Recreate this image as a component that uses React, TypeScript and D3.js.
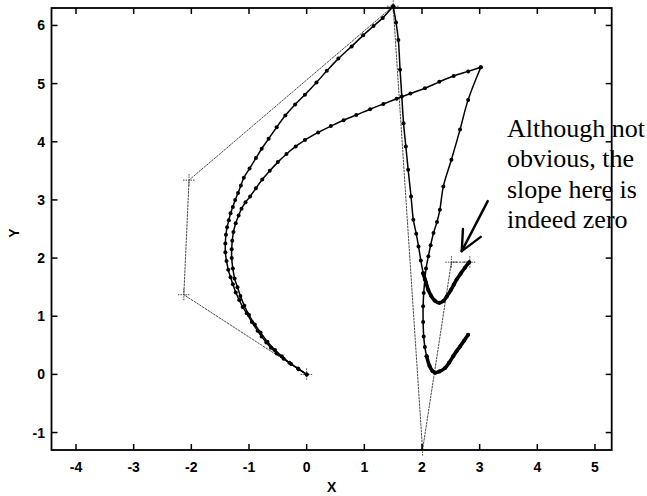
import React from 'react';
import * as d3 from 'd3';

const W = 647;
const H = 496;

const xTicks = [-4, -3, -2, -1, 0, 1, 2, 3, 4, 5];
const yTicks = [-1, 0, 1, 2, 3, 4, 5, 6];
const xDomain: [number, number] = [-4.425, 5.29];
const yDomain: [number, number] = [-1.3, 6.3];

// control polygon (drawn with + markers)
const controlPoints: [number, number][] = [
  [0, 0], [-2.13, 1.37], [-2.04, 3.34], [1.5, 6.33], [2.01, -1.3], [2.51, 1.93], [2.83, 1.93],
];

// outer curve
const outerRise: [number, number][] = [
  [0, 0], [-0.14, 0.09], [-0.27, 0.18], [-0.4, 0.27], [-0.52, 0.36], [-0.62, 0.46], [-0.7, 0.55],
  [-0.78, 0.65], [-0.85, 0.75], [-0.95, 0.9], [-1.04, 1.05], [-1.11, 1.16], [-1.17, 1.28],
  [-1.23, 1.41], [-1.28, 1.55], [-1.32, 1.67], [-1.36, 1.8], [-1.39, 1.95], [-1.41, 2.1],
  [-1.41, 2.25], [-1.4, 2.4], [-1.38, 2.53], [-1.35, 2.65], [-1.32, 2.77], [-1.28, 2.88],
  [-1.24, 3.0], [-1.19, 3.12], [-1.14, 3.25], [-1.09, 3.38], [-0.99, 3.54], [-0.88, 3.72],
  [-0.78, 3.88], [-0.66, 4.05], [-0.52, 4.25], [-0.37, 4.45], [-0.2, 4.64], [-0.03, 4.81],
  [0.17, 5.02], [0.35, 5.22], [0.55, 5.43], [0.78, 5.64], [0.98, 5.83], [1.16, 5.99],
  [1.32, 6.13], [1.5, 6.33],
];
const outerFall: [number, number][] = [
  [1.5, 6.33], [1.55, 6.05], [1.59, 5.75], [1.62, 5.24], [1.65, 4.78], [1.68, 4.32],
  [1.72, 3.92], [1.76, 3.52], [1.81, 3.06], [1.85, 2.66], [1.9, 2.42], [1.94, 2.2],
  [1.98, 1.96], [2.02, 1.74],
];
const outerTail: [number, number][] = [
  [2.02, 1.74], [2.07, 1.58], [2.11, 1.45], [2.16, 1.35], [2.22, 1.27], [2.3, 1.23],
  [2.37, 1.26], [2.43, 1.34], [2.5, 1.45], [2.55, 1.54], [2.6, 1.63], [2.67, 1.73],
  [2.74, 1.83], [2.82, 1.93],
];

// inner curve
const innerRise: [number, number][] = [
  [0, 0], [-0.15, 0.1], [-0.3, 0.2], [-0.43, 0.31], [-0.55, 0.42], [-0.68, 0.56], [-0.8, 0.72],
  [-0.9, 0.86], [-1.0, 1.02], [-1.08, 1.18], [-1.15, 1.35], [-1.2, 1.5], [-1.25, 1.65],
  [-1.28, 1.82], [-1.3, 2.0], [-1.3, 2.15], [-1.29, 2.3], [-1.27, 2.45], [-1.23, 2.6],
  [-1.18, 2.73], [-1.13, 2.85], [-1.06, 2.96], [-0.98, 3.06], [-0.88, 3.2], [-0.77, 3.35],
  [-0.64, 3.5], [-0.5, 3.65], [-0.35, 3.79], [-0.19, 3.92], [-0.03, 4.03], [0.2, 4.16],
  [0.42, 4.27], [0.64, 4.37], [0.86, 4.46], [1.1, 4.56], [1.33, 4.65], [1.56, 4.74],
  [1.8, 4.83], [2.05, 4.92], [2.3, 5.03], [2.55, 5.13], [2.8, 5.21], [3.02, 5.28],
];
const innerFall: [number, number][] = [
  [3.02, 5.28], [2.8, 4.72], [2.66, 4.21], [2.51, 3.69], [2.37, 3.23], [2.31, 2.83],
  [2.26, 2.62], [2.2, 2.43], [2.15, 2.22], [2.11, 2.03], [2.07, 1.82], [2.05, 1.63],
  [2.03, 1.4], [2.02, 1.17], [2.02, 0.9], [2.03, 0.65], [2.05, 0.47], [2.08, 0.31],
];
const innerTail: [number, number][] = [
  [2.08, 0.31], [2.13, 0.15], [2.18, 0.06], [2.23, 0.03], [2.3, 0.05], [2.4, 0.11],
  [2.47, 0.2], [2.54, 0.31], [2.6, 0.4], [2.66, 0.48], [2.73, 0.58], [2.8, 0.68],
];

// annotation
const noteLines = ['Although not', 'obvious, the', 'slope here is', 'indeed zero'];
const arrowTail: [number, number] = [3.14, 2.98];
const arrowTip: [number, number] = [2.69, 2.12];
const arrowArms: [number, number][] = [[2.71, 2.5], [3.02, 2.365]];

export default function App() {
  const left = 51.5, right = 611.7, top = 8, bottom = 450;
  const x = d3.scaleLinear().domain(xDomain).range([left, right]);
  const y = d3.scaleLinear().domain(yDomain).range([bottom, top]);
  const smooth = d3
    .line<[number, number]>()
    .x((d) => x(d[0]))
    .y((d) => y(d[1]))
    .curve(d3.curveCatmullRom.alpha(0.5));
  const straight = d3
    .line<[number, number]>()
    .x((d) => x(d[0]))
    .y((d) => y(d[1]));

  const tick = 6;
  const thinPieces = [outerRise, outerFall, innerRise, innerFall];
  const tails = [outerTail, innerTail];
  const allDots = [...outerRise, ...outerFall, ...innerRise, ...innerFall, ...outerTail, ...innerTail];

  return (
    <svg
      width={W}
      height={H}
      style={{ position: 'absolute', left: 0, top: 0, background: '#fff' }}
      fontFamily="'Liberation Sans', Arial, sans-serif"
    >
      <rect x={0} y={0} width={W} height={H} fill="#fff" />
      {/* control polygon */}
      <path d={straight(controlPoints) || ''} fill="none" stroke="#333" strokeWidth={0.9} strokeDasharray="2.5 0.8" />
      {controlPoints.map((p, i) => (
        <g key={'cp' + i} stroke="#333" strokeWidth={0.9} strokeDasharray="1.5 1">
          <line x1={x(p[0]) - 6} x2={x(p[0]) + 6} y1={y(p[1])} y2={y(p[1])} />
          <line x1={x(p[0])} x2={x(p[0])} y1={y(p[1]) - 6} y2={y(p[1]) + 6} />
        </g>
      ))}
      {/* curves */}
      {thinPieces.map((pts, i) => (
        <path key={'c' + i} d={smooth(pts) || ''} fill="none" stroke="#000" strokeWidth={1.5} />
      ))}
      {tails.map((pts, i) => (
        <path key={'t' + i} d={smooth(pts) || ''} fill="none" stroke="#000" strokeWidth={3.6} strokeLinecap="round" />
      ))}
      {allDots.map((p, i) => (
        <circle key={'d' + i} cx={x(p[0])} cy={y(p[1])} r={2} fill="#000" />
      ))}
      {/* frame */}
      <rect x={left} y={top} width={right - left} height={bottom - top} fill="none" stroke="#000" strokeWidth={1.8} />
      {xTicks.map((t) => (
        <g key={'xt' + t} stroke="#000" strokeWidth={1.5}>
          <line x1={x(t)} x2={x(t)} y1={bottom} y2={bottom - tick} />
          <line x1={x(t)} x2={x(t)} y1={top} y2={top + tick} />
        </g>
      ))}
      {yTicks.map((t) => (
        <g key={'yt' + t} stroke="#000" strokeWidth={1.5}>
          <line x1={left} x2={left + tick} y1={y(t)} y2={y(t)} />
          <line x1={right} x2={right - tick} y1={y(t)} y2={y(t)} />
        </g>
      ))}
      {xTicks.map((t) => (
        <text key={'xl' + t} x={x(t)} y={472} textAnchor="middle" fontSize={14} fontWeight="bold">
          {String(t)}
        </text>
      ))}
      {yTicks.map((t) => (
        <text key={'yl' + t} x={45} y={y(t)} dy="0.36em" textAnchor="end" fontSize={14} fontWeight="bold">
          {String(t)}
        </text>
      ))}
      <text x={(left + right) / 2} y={492} textAnchor="middle" fontSize={14} fontWeight="bold">
        X
      </text>
      <text
        transform={`translate(19, ${(top + bottom) / 2 + 4}) rotate(-90)`}
        textAnchor="middle"
        fontSize={14}
        fontWeight="bold"
      >
        Y
      </text>
      {/* annotation */}
      {noteLines.map((s, i) => (
        <text key={'n' + i} x={507} y={136.5 + i * 30.5} fontFamily="'Liberation Serif', 'Times New Roman', serif" fontSize={26}>
          {s}
        </text>
      ))}
      <g stroke="#000" strokeWidth={2.4} strokeLinecap="round" fill="none">
        <line x1={x(arrowTail[0])} y1={y(arrowTail[1])} x2={x(arrowTip[0])} y2={y(arrowTip[1])} />
        {arrowArms.map((a, i) => (
          <line key={'a' + i} x1={x(arrowTip[0])} y1={y(arrowTip[1])} x2={x(a[0])} y2={y(a[1])} />
        ))}
      </g>
    </svg>
  );
}
